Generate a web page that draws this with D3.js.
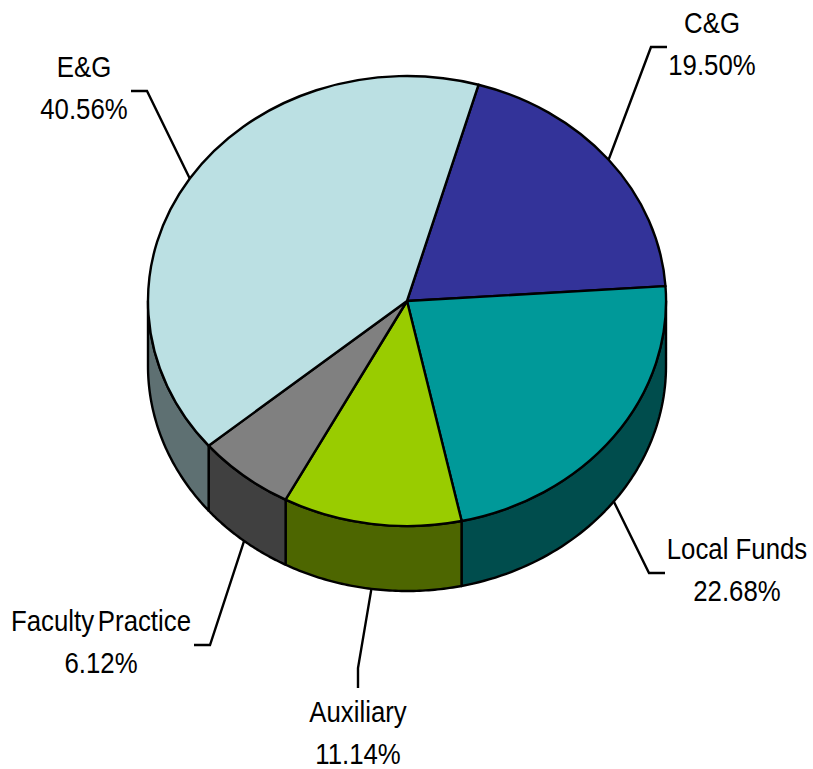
<!DOCTYPE html>
<html>
<head>
<meta charset="utf-8">
<script src="https://cdn.jsdelivr.net/npm/d3@7"></script>
<style>
  html, body { margin: 0; background: #fff; }
  text { font-family: "Liberation Sans", Arial, sans-serif; font-size: 30px; fill: #000; text-anchor: middle; }
</style>
</head>
<body>
<script>
const categories = ['C&G', 'Local Funds', 'Auxiliary', 'Faculty Practice', 'E&G']
const shares = [19.50, 22.68, 11.14, 6.12, 40.56]
const colors = ['#333399', '#009999', '#99cc00', '#808080', '#bbe0e3']

const width = 813
const height = 769
const cx = 407
const cy = 301
const rx = 259
const ry = 225
const depth = 65
const firstAngle = 16 * Math.PI / 180
const strokeWidth = 2.4

// label box centre and leader elbow for each slice, same order as categories
const labelLayout = [
  { x: 712, y: 22, elbow: [651, 47], end: [667, 47] },
  { x: 737, y: 548, elbow: [649, 573], end: [665, 573] },
  { x: 358, y: 711, elbow: [358, 668], end: [358, 688] },
  { x: 101, y: 620, elbow: [210, 645], end: [194, 645], wordSpacing: -4 },
  { x: 84, y: 66, elbow: [147, 91], end: [131, 91] }
]

const svg = d3.select('body').append('svg')
  .attr('width', width)
  .attr('height', height)
  .style('display', 'block')

const rows = categories.map((name, i) => ({ name, share: shares[i], color: colors[i], layout: labelLayout[i] }))

const pie = d3.pie()
  .sort(null)
  .value(d => d.share)
  .startAngle(firstAngle)
  .endAngle(firstAngle + 2 * Math.PI)

const slices = pie(rows)

// d3 angles run clockwise from 12 o'clock, so these give the tilted ellipse
const px = a => cx + rx * Math.sin(a)
const py = a => cy - ry * Math.cos(a)

/* ------- SIDE WALLS -------*/
const wallArea = d3.area()
  .x(px)
  .y0(py)
  .y1(a => py(a) + depth)

const frontFrom = Math.PI / 2
const frontTo = 3 * Math.PI / 2

const walls = svg.append('g').attr('class', 'walls')
slices.forEach((s) => {
  const from = Math.max(s.startAngle, frontFrom)
  const to = Math.min(s.endAngle, frontTo)
  if (from >= to) return
  const steps = d3.range(0, 61).map(k => from + (to - from) * k / 60)
  walls.append('path')
    .attr('d', wallArea(steps))
    .attr('fill', d3.interpolateRgb(s.data.color, '#000')(0.5))
    .attr('stroke', '#000')
    .attr('stroke-width', strokeWidth)
    .attr('stroke-linejoin', 'round')
})

/* ------- TOP FACE -------*/
const arc = d3.arc().innerRadius(0).outerRadius(1)

svg.append('g').attr('class', 'arcs')
  .attr('transform', `translate(${cx},${cy}) scale(${rx},${ry})`)
  .selectAll('path')
  .data(slices)
  .enter()
  .append('path')
  .attr('d', arc)
  .attr('fill', d => d.data.color)
  .attr('stroke', '#000')
  .attr('stroke-width', strokeWidth)
  .attr('stroke-linejoin', 'round')
  .attr('vector-effect', 'non-scaling-stroke')

/* ------- LEADERS -------*/
const leader = d3.line()

svg.append('g').attr('class', 'lines')
  .selectAll('path')
  .data(slices)
  .enter()
  .append('path')
  .attr('d', (d) => {
    const mid = (d.startAngle + d.endAngle) / 2
    // slices facing the viewer hang their leader off the bottom of the wall
    const front = Math.cos(mid) < 0
    const start = [px(mid), py(mid) + (front ? depth : 0)]
    return leader([start, d.data.layout.elbow, d.data.layout.end])
  })
  .attr('fill', 'none')
  .attr('stroke', '#000')
  .attr('stroke-width', strokeWidth)

/* ------- TEXT LABELS -------*/
// the original type is tall and narrow, so squeeze it sideways
const labels = svg.append('g').attr('class', 'labels')
  .selectAll('g')
  .data(slices)
  .enter()
  .append('g')
  .attr('transform', d => `translate(${d.data.layout.x},${d.data.layout.y}) scale(0.86,1)`)

labels.append('text')
  .attr('y', 11)
  .style('word-spacing', d => (d.data.layout.wordSpacing || 0) + 'px')
  .text(d => d.data.name)

labels.append('text')
  .attr('y', 53)
  .text(d => d.data.share.toFixed(2) + '%')
</script>
</body>
</html>
